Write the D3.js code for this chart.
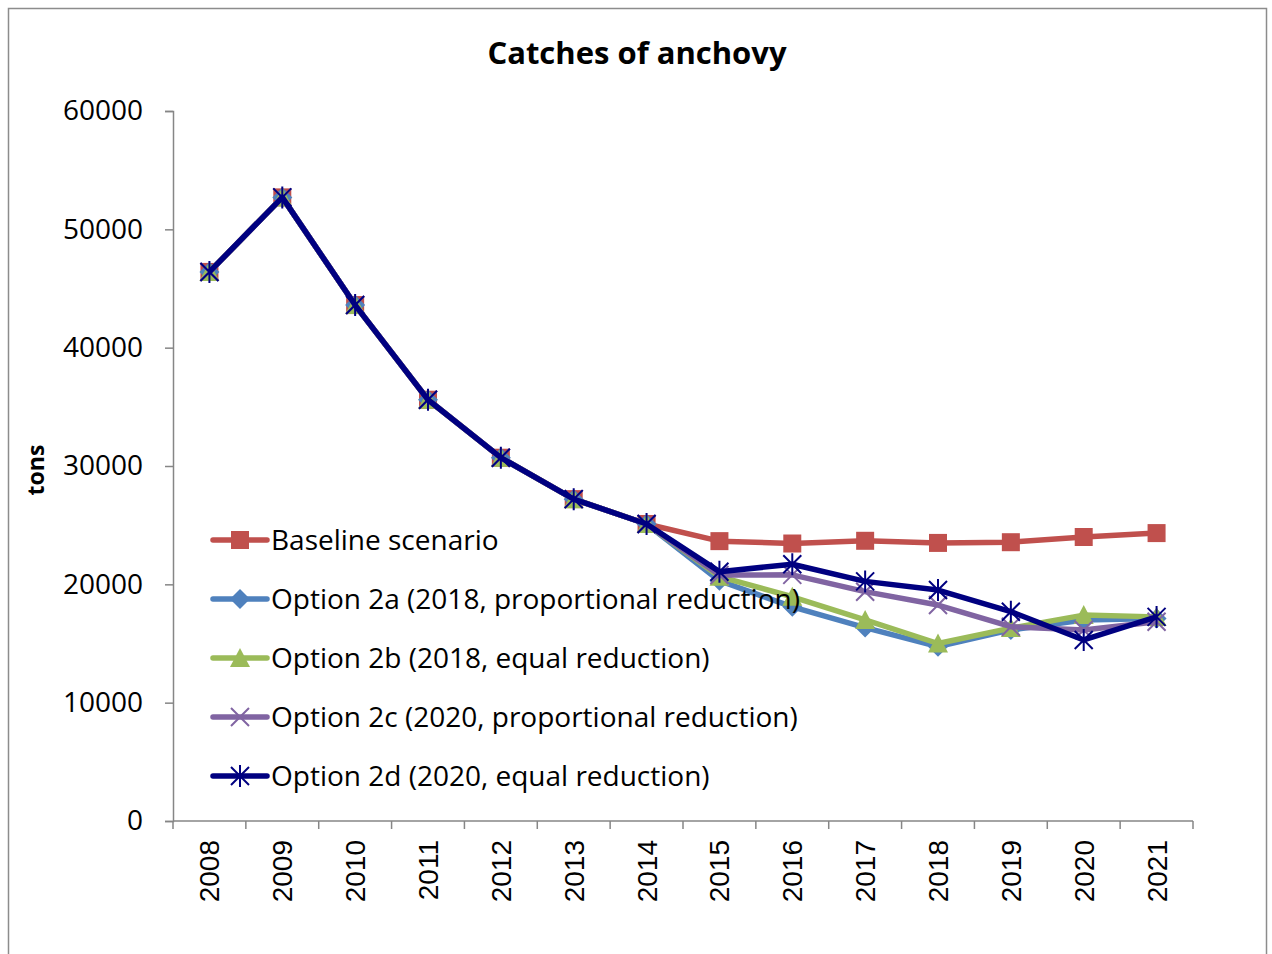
<!DOCTYPE html>
<html>
<head>
<meta charset="utf-8">
<script src="https://cdn.jsdelivr.net/npm/d3@7"></script>
<style>
body { margin: 0; background: #fff; }
text { font-family: "Open Sans", sans-serif; }
</style>
</head>
<body>
<script>
const years = ["2008", "2009", "2010", "2011", "2012", "2013", "2014", "2015", "2016", "2017", "2018", "2019", "2020", "2021"];
const common = [46400, 52700, 43600, 35600, 30700, 27200, 25100];
const baseline = common.concat([23650, 23450, 23680, 23500, 23560, 24000, 24330]);
const opt2a = common.concat([20300, 18100, 16350, 14730, 16150, 16980, 17120]);
const opt2b = common.concat([20650, 18950, 16990, 15000, 16300, 17400, 17250]);
const opt2c = common.concat([20790, 20800, 19380, 18250, 16420, 16140, 16840]);
const opt2d = common.concat([21070, 21700, 20250, 19520, 17690, 15300, 17250]);
const yTicks = [0, 10000, 20000, 30000, 40000, 50000, 60000];

const series = [
  { name: "Baseline scenario", values: baseline, color: "#C0504D", marker: "square" },
  { name: "Option 2a (2018, proportional reduction)", values: opt2a, color: "#4F81BD", marker: "diamond" },
  { name: "Option 2b (2018, equal reduction)", values: opt2b, color: "#9BBB59", marker: "triangle" },
  { name: "Option 2c (2020, proportional reduction)", values: opt2c, color: "#8064A2", marker: "x" },
  { name: "Option 2d (2020, equal reduction)", values: opt2d, color: "#000080", marker: "star" }
];

const W = 1272, H = 954;
const margin = { top: 111, left: 173, right: 79, bottom: 133 };
const plotW = W - margin.left - margin.right;
const plotH = H - margin.top - margin.bottom;

const svg = d3.select("body").append("svg")
  .attr("width", W)
  .attr("height", H);

// chart frame
svg.append("rect")
  .attr("x", 8.5).attr("y", 8.5)
  .attr("width", 1258).attr("height", 960)
  .attr("fill", "none")
  .attr("stroke", "#8c8c8c")
  .attr("stroke-width", 1.5);

svg.append("text")
  .attr("x", 637).attr("y", 64)
  .attr("text-anchor", "middle")
  .attr("font-size", 31)
  .attr("font-weight", "bold")
  .text("Catches of anchovy");

const x = d3.scaleBand().domain(years).range([0, plotW]);
const y = d3.scaleLinear().domain([0, 60000]).range([plotH, 0]);

const g = svg.append("g")
  .attr("transform", "translate(" + margin.left + "," + margin.top + ")");

// y axis
const yAxis = g.append("g")
  .call(d3.axisLeft(y).tickValues(yTicks).tickSize(8).tickPadding(22).tickFormat(d3.format("d")));
yAxis.selectAll("path, line").attr("stroke", "#868686").attr("stroke-width", 1.5);
yAxis.selectAll("text").attr("font-size", 28).attr("fill", "#000")
  .style("font-family", "'Open Sans', sans-serif");

// x axis, ticks on band edges
const xAxis = g.append("g")
  .attr("transform", "translate(0," + plotH + ")");
xAxis.append("line")
  .attr("x1", 0).attr("x2", plotW)
  .attr("stroke", "#868686").attr("stroke-width", 1.5);
xAxis.selectAll(".tk")
  .data(years.concat(["end"]))
  .join("line")
  .attr("class", "tk")
  .attr("x1", (d, i) => i * x.step()).attr("x2", (d, i) => i * x.step())
  .attr("y1", 0).attr("y2", 8)
  .attr("stroke", "#868686").attr("stroke-width", 1.5);
xAxis.selectAll(".lbl")
  .data(years)
  .join("text")
  .attr("class", "lbl")
  .attr("transform", d => "translate(" + (x(d) + x.bandwidth() / 2 + 10) + ",19) rotate(-90)")
  .attr("text-anchor", "end")
  .attr("font-size", 28)
  .style("font-family", "'Liberation Sans', Arial, sans-serif")
  .text(d => d);

svg.append("text")
  .attr("transform", "translate(44,470) rotate(-90)")
  .attr("text-anchor", "middle")
  .attr("font-size", 23)
  .attr("font-weight", "bold")
  .text("tons");

const line = d3.line()
  .x((d, i) => x(years[i]) + x.bandwidth() / 2)
  .y(d => y(d));

function drawMarker(sel, type, color) {
  if (type === "square") {
    sel.append("rect").attr("x", -9).attr("y", -9).attr("width", 18).attr("height", 18)
      .attr("fill", color);
  } else if (type === "diamond") {
    sel.append("path").attr("d", "M0,-10L10,0L0,10L-10,0Z").attr("fill", color);
  } else if (type === "triangle") {
    sel.append("path").attr("d", "M0,-10L10,9L-10,9Z").attr("fill", color);
  } else if (type === "x") {
    sel.append("path").attr("d", "M-9,-9L9,9M-9,9L9,-9")
      .attr("stroke", color).attr("stroke-width", 2).attr("fill", "none");
  } else if (type === "star") {
    sel.append("path").attr("d", "M-9,-9L9,9M-9,9L9,-9M0,-11L0,11")
      .attr("stroke", color).attr("stroke-width", 2).attr("fill", "none");
  }
}

series.forEach(s => {
  g.append("path")
    .datum(s.values)
    .attr("fill", "none")
    .attr("stroke", s.color)
    .attr("stroke-width", 5.5)
    .attr("stroke-linejoin", "round")
    .attr("d", line);
  g.selectAll(null)
    .data(s.values)
    .join("g")
    .attr("transform", (d, i) => "translate(" + (x(years[i]) + x.bandwidth() / 2) + "," + y(d) + ")")
    .each(function () { drawMarker(d3.select(this), s.marker, s.color); });
});

// legend
const legend = svg.append("g");
series.forEach((s, i) => {
  const ly = 540 + i * 59;
  const row = legend.append("g").attr("transform", "translate(0," + ly + ")");
  row.append("line")
    .attr("x1", 213).attr("x2", 267)
    .attr("stroke", s.color).attr("stroke-width", 5.5).attr("stroke-linecap", "round");
  const m = row.append("g").attr("transform", "translate(240,0)");
  drawMarker(m, s.marker, s.color);
  row.append("text")
    .attr("x", 271).attr("y", 10)
    .attr("font-size", 28)
    .text(s.name);
});
</script>
</body>
</html>
